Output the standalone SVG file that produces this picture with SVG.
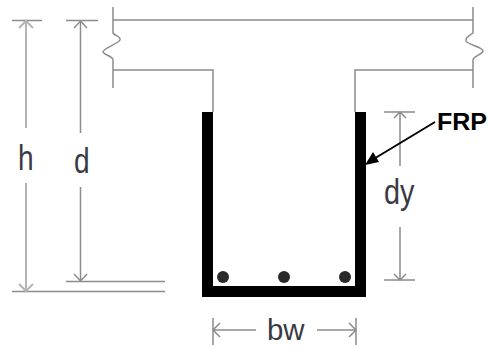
<svg xmlns="http://www.w3.org/2000/svg" width="489" height="347" viewBox="0 0 489 347">
<style>
.l{fill:none;stroke:#8c8c8c;stroke-width:1.5}
.g{fill:none;stroke:#b4b4b4;stroke-width:2}
.t{font-family:"Liberation Sans",Arial,sans-serif;font-size:36px;fill:#3a3a44}
</style>
<rect width="489" height="347" fill="#fff"/>
<g id="beam">
<path class="l" d="M113 7V33C115 36 121 36 120 40C118 44 103 48 103 52C104 55 113 56 113 60V88M113 20H473M113 70H213V112"/>
<path class="l" d="M473 7V33C470 35 465 37 466 41C468 45 483 47 483 51C482 55 473 56 473 60V88M473 70H355V112"/>
</g>
<g id="frp-jacket"><path d="M207.500 112V291.500H360.500V112" fill="none" stroke="#000" stroke-width="11"/></g>
<g id="bars" fill="#2a2a2a">
<circle id="bar-1" cx="223" cy="277" r="6"/>
<circle id="bar-2" cx="284" cy="277" r="6"/>
<circle id="bar-3" cx="345" cy="277" r="6"/>
</g>
<g id="connectors">
<path class="l" d="M12 20.500H42M66 20.500H98M12 291.500H165M66 281.500H165M384 112H415M384 280H415M213 318V345M356 318V345"/>
<path class="g" d="M26 20V128M26 183V291M19 28L26 21 33 28M19 284L26 291 33 284"/>
<path class="l" d="M80.500 20V133M80.500 187V281M74 28L80.500 21 87 28M74 274L80.500 281 87 274"/>
<path class="l" d="M400 112V166M400 227V280M394 118L400 112 406 118M394 274L400 280 406 274"/>
<path class="l" d="M213 330H256M317 330H356M220 323L213 330 220 337M349 323L356 330 349 337"/>
<path d="M435 122L372 160" stroke="#000" stroke-width="2" fill="none"/>
<path d="M365 165L373 152 379 162Z" fill="#000"/>
</g>
<g id="labels">
<text class="t" transform="translate(18 170) scale(.78 1)">h</text>
<text class="t" transform="translate(74 173) scale(.78 1)">d</text>
<text class="t" transform="translate(384 204) scale(.8 1)">dy</text>
<text class="t" style="font-size:30px" transform="translate(267 340) scale(.98 1)">bw</text>
<text x="437" y="130" font-family="'Liberation Sans',Arial,sans-serif" font-size="23px" font-weight="bold" fill="#000" textLength="50" lengthAdjust="spacingAndGlyphs">FRP</text>
</g>
</svg>
